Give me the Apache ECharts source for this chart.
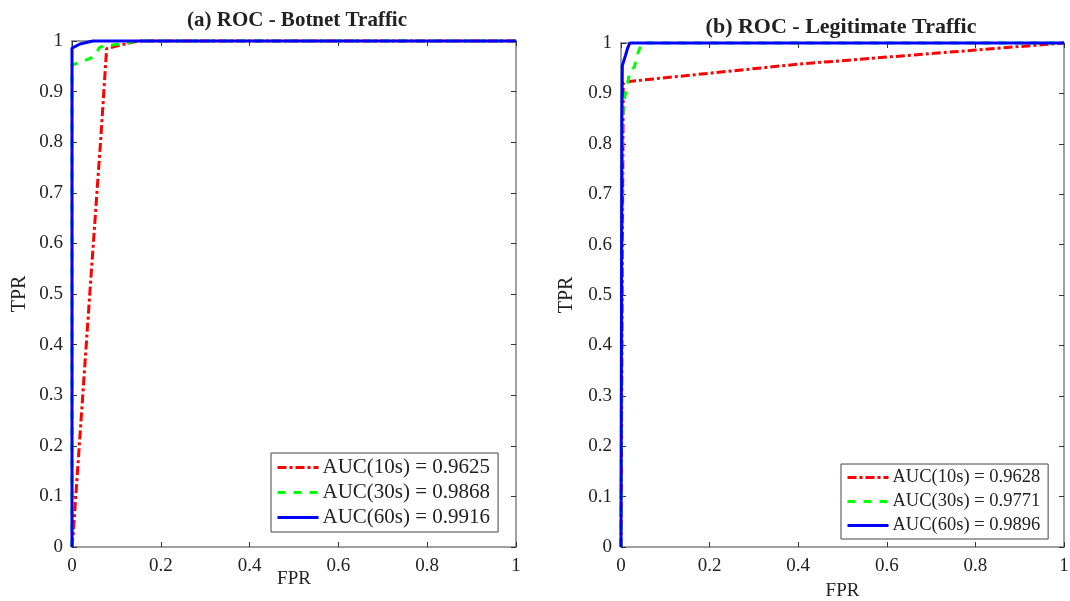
<!DOCTYPE html>
<html>
<head>
<meta charset="utf-8">
<script src="https://cdn.jsdelivr.net/npm/echarts@6/dist/echarts.min.js"></script>
<style>
  html, body { margin: 0; padding: 0; background: #fff; }
  #chart { width: 1070px; height: 601px; }
</style>
</head>
<body>
<div id="chart"></div>
<script>
// (a) Botnet traffic - [FPR, TPR] points
const botnet10 = [[0, 0], [0.003, 0.03], [0.04, 0.5], [0.065, 0.81], [0.078, 0.985], [0.1, 0.99], [0.15, 1], [1, 1]];
const botnet30 = [[0, 0], [0, 0.953], [0.02, 0.958], [0.047, 0.968], [0.063, 0.988], [0.12, 0.996], [0.15, 1], [1, 1]];
const botnet60 = [[0, 0], [0, 0.986], [0.018, 0.994], [0.047, 1], [1, 1]];
const botnetNames = ['AUC(10s) = 0.9625', 'AUC(30s) = 0.9868', 'AUC(60s) = 0.9916'];

// (b) Legitimate traffic
const legit10 = [[0, 0], [0.005, 0.92], [0.01, 0.923], [0.2, 0.94], [0.4, 0.958], [0.6, 0.972], [0.8, 0.986], [1, 1]];
const legit30 = [[0, 0], [0.003, 0.85], [0.008, 0.89], [0.013, 0.91], [0.02, 0.945], [0.03, 0.952], [0.04, 0.985], [0.045, 0.995], [0.05, 1], [1, 1]];
const legit60 = [[0, 0], [0.002, 0.85], [0.003, 0.955], [0.01, 0.975], [0.015, 0.99], [0.02, 1], [1, 1]];
const legitNames = ['AUC(10s) = 0.9628', 'AUC(30s) = 0.9771', 'AUC(60s) = 0.9896'];

const titles = ['(a) ROC - Botnet Traffic', '(b) ROC - Legitimate Traffic'];

const SERIF = '"Liberation Serif", "DejaVu Serif", serif';
const AXIS_GREY = '#808080';
const TEXT = '#222';

const chart = echarts.init(document.getElementById('chart'));

const grids = [
    { left: 72, top: 41, width: 444, height: 506, outerBoundsMode: 'none', containLabel: false },
    { left: 621, top: 43, width: 443, height: 504, outerBoundsMode: 'none', containLabel: false }
];

function mainX(i, gap) {
    return {
        type: 'value', gridIndex: i, min: 0, max: 1, interval: 0.2,
        name: 'FPR', nameLocation: 'middle', nameGap: gap, nameMoveOverlap: false,
        nameTextStyle: { fontFamily: SERIF, fontSize: 19, color: TEXT },
        axisLine: { show: true, onZero: false, lineStyle: { color: AXIS_GREY, width: 1.5 } },
        axisTick: { show: true, inside: true, length: 5, lineStyle: { color: '#333' } },
        axisLabel: { fontFamily: SERIF, fontSize: 19, color: TEXT, margin: 10,
            formatter: v => String(+v.toFixed(1)) },
        splitLine: { show: false }
    };
}
function mainY(i, gap) {
    return {
        type: 'value', gridIndex: i, min: 0, max: 1, interval: 0.1,
        name: 'TPR', nameLocation: 'middle', nameGap: gap, nameMoveOverlap: false,
        nameTextStyle: { fontFamily: SERIF, fontSize: 20, color: TEXT },
        axisLine: { show: true, onZero: false, lineStyle: { color: AXIS_GREY, width: 1.5 } },
        axisTick: { show: true, inside: true, length: 5, lineStyle: { color: '#333' } },
        axisLabel: { fontFamily: SERIF, fontSize: 19, color: TEXT, margin: 9,
            formatter: v => String(+v.toFixed(1)) },
        splitLine: { show: false }
    };
}
function boxX(i) {
    return {
        type: 'value', gridIndex: i, min: 0, max: 1, interval: 0.2, position: 'top',
        axisLine: { show: true, onZero: false, lineStyle: { color: AXIS_GREY, width: 1.5 } },
        axisTick: { show: true, inside: true, length: 5, lineStyle: { color: '#333' } },
        axisLabel: { show: false }, splitLine: { show: false }
    };
}
function boxY(i) {
    return {
        type: 'value', gridIndex: i, min: 0, max: 1, interval: 0.1, position: 'right',
        axisLine: { show: true, onZero: false, lineStyle: { color: AXIS_GREY, width: 1.5 } },
        axisTick: { show: true, inside: true, length: 5, lineStyle: { color: '#333' } },
        axisLabel: { show: false }, splitLine: { show: false }
    };
}

const styles = [
    { color: '#ff0000', type: [9, 3, 3, 3] },
    { color: '#00ff00', type: [8, 8] },
    { color: '#0000ff', type: 'solid' }
];

function roc(name, data, k, xi, yi) {
    return {
        type: 'line', name: name, data: data,
        xAxisIndex: xi, yAxisIndex: yi,
        showSymbol: false, symbol: 'none', clip: false, animation: false,
        lineStyle: { color: styles[k].color, width: 3, type: styles[k].type },
        itemStyle: { color: styles[k].color }
    };
}

function legend(names, pos, fontSize, gap) {
    return Object.assign({
        data: names, orient: 'vertical',
        backgroundColor: '#fff',
        borderColor: '#444', borderWidth: 1, borderRadius: 0,
        padding: [4, 8, 4, 5],
        itemWidth: 41, itemHeight: 12, itemGap: gap,
        itemStyle: { opacity: 0 },
        lineStyle: { width: 3 },
        textStyle: { fontFamily: SERIF, fontSize: fontSize, color: TEXT, padding: [0, 0, 0, -1] },
        selectedMode: false
    }, pos);
}

chart.setOption({
    backgroundColor: '#fff',
    animation: false,
    title: [
        { text: titles[0], left: 292, textAlign: 'center', top: 5,
          textStyle: { fontFamily: SERIF, fontSize: 21, fontWeight: 'bold', color: TEXT } },
        { text: titles[1], left: 836, textAlign: 'center', top: 11,
          textStyle: { fontFamily: SERIF, fontSize: 22, fontWeight: 'bold', color: TEXT } }
    ],
    grid: grids,
    xAxis: [mainX(0, 23), mainX(1, 35), boxX(0), boxX(1)],
    yAxis: [mainY(0, 42), mainY(1, 44), boxY(0), boxY(1)],
    legend: [
        legend(botnetNames, { left: 271, top: 453 }, 21, 4),
        legend(legitNames, { left: 841, top: 464 }, 18.5, 5)
    ],
    series: [
        roc(botnetNames[0], botnet10, 0, 0, 0),
        roc(botnetNames[1], botnet30, 1, 0, 0),
        roc(botnetNames[2], botnet60, 2, 0, 0),
        roc(legitNames[0], legit10, 0, 1, 1),
        roc(legitNames[1], legit30, 1, 1, 1),
        roc(legitNames[2], legit60, 2, 1, 1)
    ]
});
</script>
</body>
</html>
